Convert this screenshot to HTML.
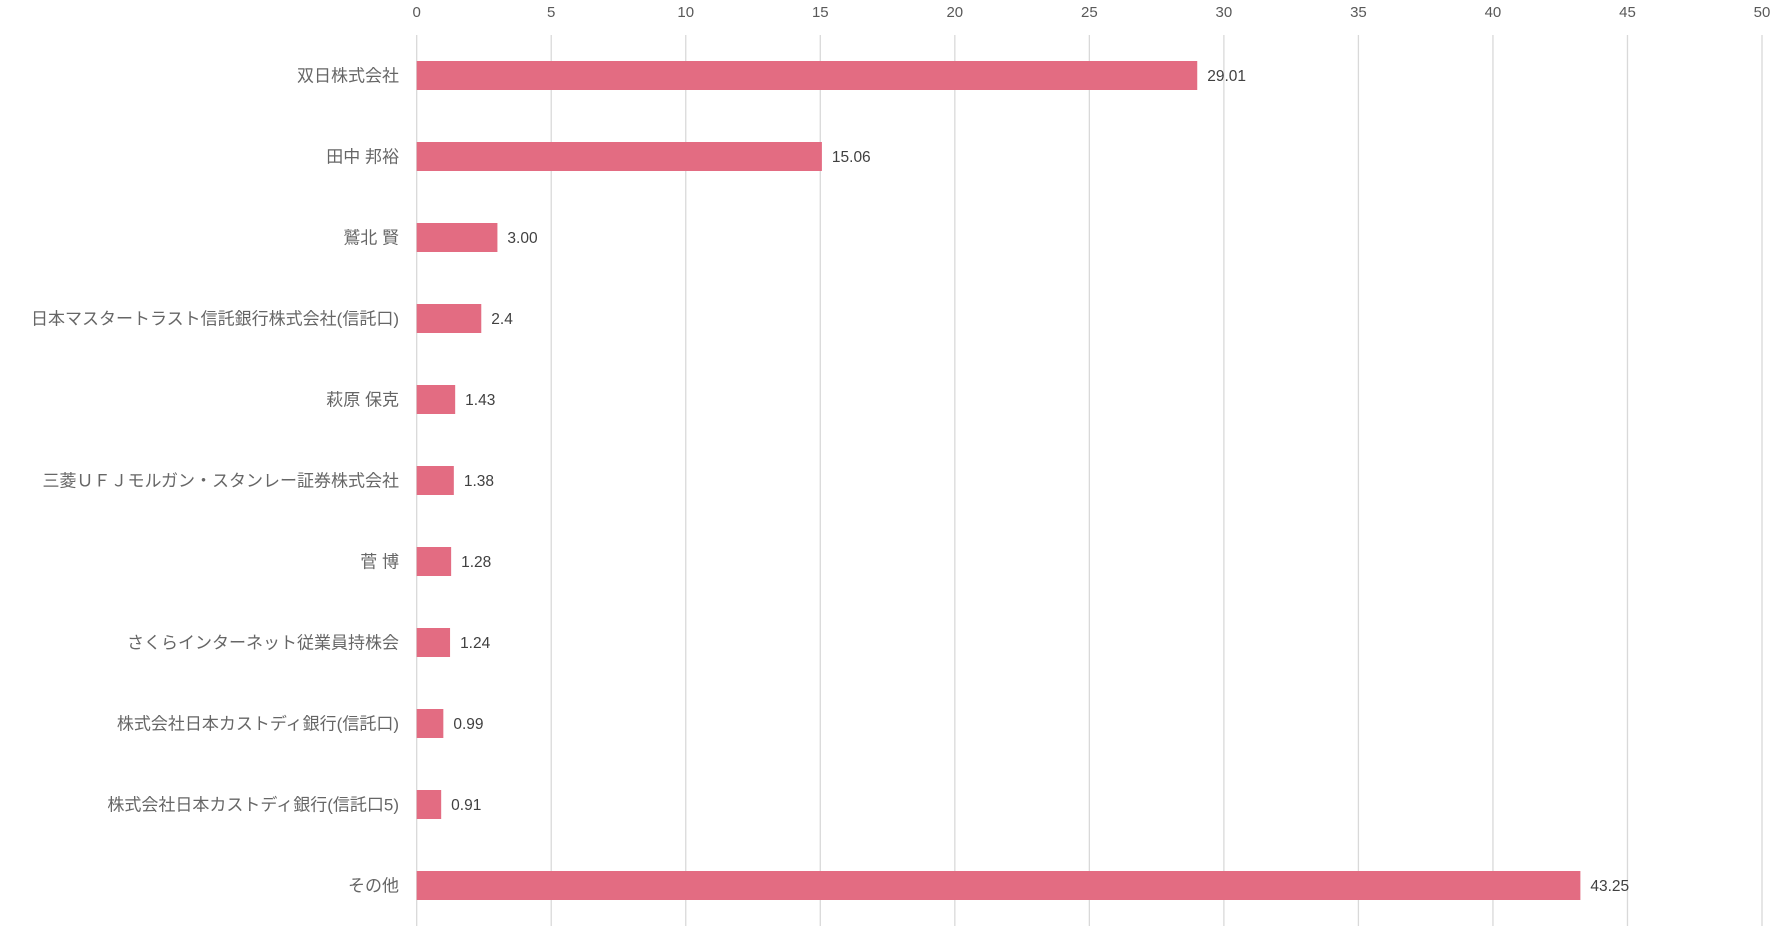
<!DOCTYPE html>
<html><head><meta charset="utf-8"><style>
body{margin:0;background:#fff;}
svg{display:block;}
text{font-family:"Liberation Sans","Noto Sans CJK JP",sans-serif;}
</style></head><body>
<svg id="chart" width="1779" height="941" xmlns="http://www.w3.org/2000/svg"></svg>
<script>
const categories=["双日株式会社","田中 邦裕","鷲北 賢","日本マスタートラスト信託銀行株式会社(信託口)","萩原 保克","三菱ＵＦＪモルガン・スタンレー証券株式会社","菅 博","さくらインターネット従業員持株会","株式会社日本カストディ銀行(信託口)","株式会社日本カストディ銀行(信託口5)","その他"];
const values=[29.01,15.06,3.00,2.4,1.43,1.38,1.28,1.24,0.99,0.91,43.25];
const valueLabels=["29.01","15.06","3.00","2.4","1.43","1.38","1.28","1.24","0.99","0.91","43.25"];
const ticks=[0,5,10,15,20,25,30,35,40,45,50];

const svgEl=document.getElementById('chart');
const NS="http://www.w3.org/2000/svg";
const plotX0=416.7,plotX1=1762,plotTop=35,plotBottom=926;
const xMax=50;
const band=(plotBottom-plotTop)/categories.length;
const barH=29;
function xs(v){return plotX0+(v/xMax)*(plotX1-plotX0);}
function yc(i){return plotTop+band*i+band/2;}
function mk(tag,attrs){const e=document.createElementNS(NS,tag);for(const k in attrs)e.setAttribute(k,attrs[k]);svgEl.appendChild(e);return e;}

ticks.forEach(t=>{
  const l=mk('line',{x1:xs(t),x2:xs(t),y1:plotTop,y2:plotBottom,stroke:'#d9d9d9','stroke-width':1.3});
  
  
  const tx=mk('text',{x:xs(t),y:17,'text-anchor':'middle','font-size':15,fill:'#595959'});
  tx.textContent=t;
  
  
});

categories.forEach((c,i)=>{
  const y=yc(i);
  const r=mk('rect',{x:xs(0),y:y-barH/2,width:xs(values[i])-xs(0),height:barH,fill:'#e36c82'});
  
  
  const lab=mk('text',{x:399,y:y+6,'text-anchor':'end','font-size':17,fill:'#666'});
  lab.textContent=c;
  
  
  const v=mk('text',{x:xs(values[i])+10,y:y+5.5,'font-size':15.5,fill:'#404040'});
  v.textContent=valueLabels[i];
  
  
});
</script>
</body></html>
